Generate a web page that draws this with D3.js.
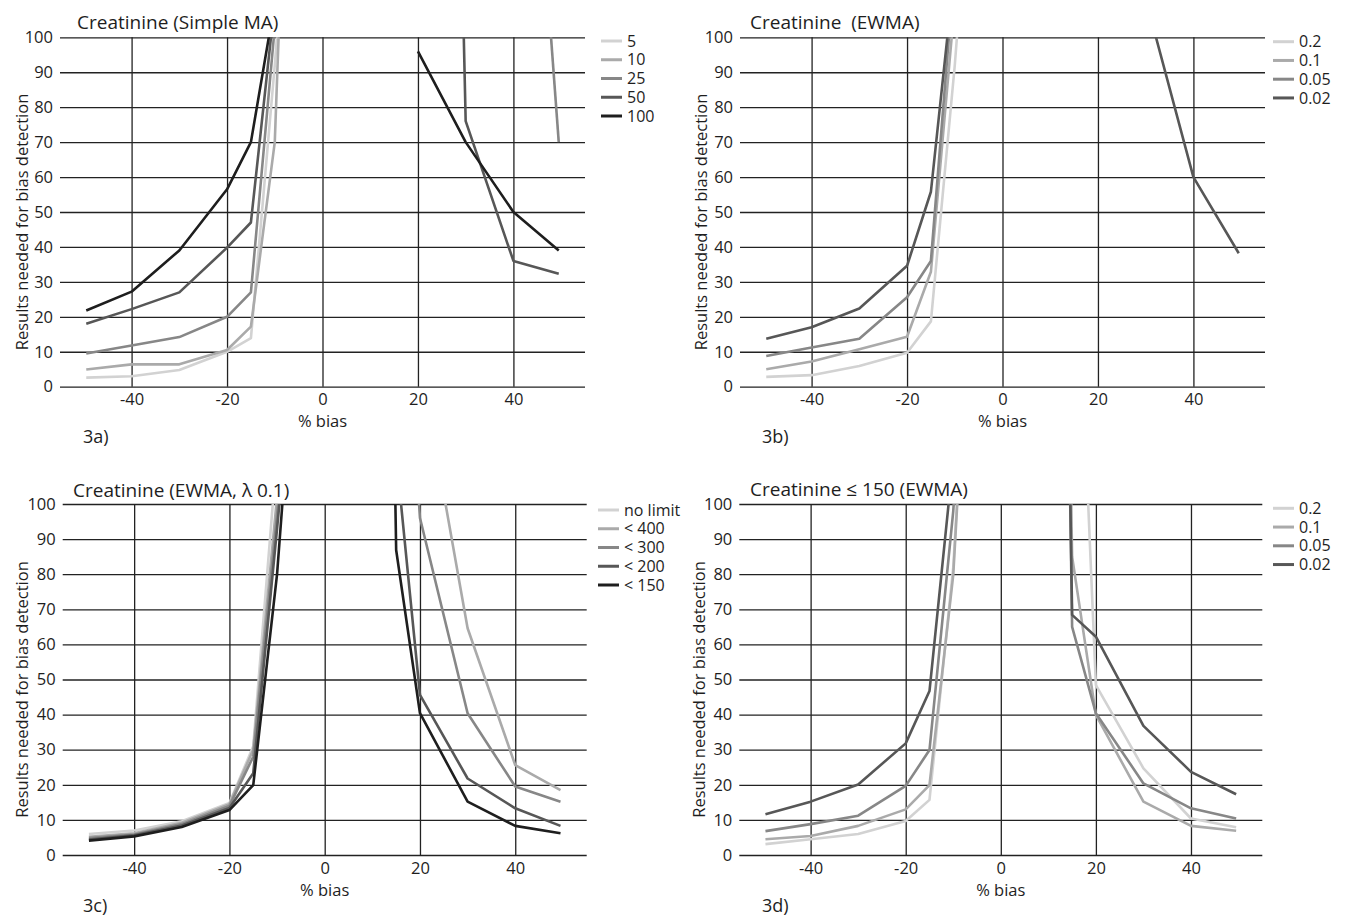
<!DOCTYPE html>
<html><head><meta charset="utf-8">
<script src="https://cdn.jsdelivr.net/npm/d3@7"></script>
<style>
body{margin:0;background:#fff;}
svg{font-family:"Open Sans",sans-serif;display:block;}
text{fill:#1e1e1e;}
.title{white-space:pre;}
</style></head><body>
<svg id="chart" width="1348" height="919"></svg>
<script>
// ---------- shared axes ----------
const biasNeg = [-49.5, -40, -30, -20, -15, -10, -5];
const biasPos = [10, 15, 20, 30, 40, 49.5];
const xTickValues = [-40, -20, 0, 20, 40];
const yTickValues = [0, 10, 20, 30, 40, 50, 60, 70, 80, 90, 100];

// ---------- 3a: Creatinine (Simple MA) ----------
const maSeries = ["5", "10", "25", "50", "100"];
const maNeg = [
  [2.6, 3.0, 4.8, 10.0, 13.9, 92, 180],
  [4.9, 6.4, 6.4, 10.5, 17.2, 70, 257],
  [9.5, 11.8, 14.2, 20.0, 27.0, 103, 200],
  [18.0, 22.2, 27.0, 39.8, 47.0, 110, 200],
  [21.8, 27.2, 39.0, 56.5, 70.0, 110, 200]
];
const maPos = [
  [null, null, null, null, null, null],
  [null, null, null, null, null, null],
  [null, null, null, null, 246, 70],
  [null, null, 680, 76, 36, 32.3],
  [null, null, 96, 70, 50, 39]
];

// ---------- 3b: Creatinine (EWMA) ----------
const ewmaSeries = ["0.2", "0.1", "0.05", "0.02"];
const ewmaNeg = [
  [2.8, 3.3, 5.9, 9.7, 18.7, 92, 180],
  [5.0, 7.2, 10.7, 14.3, 32.9, 110, 200],
  [8.8, 11.2, 13.7, 25.6, 36.0, 121, 200],
  [13.7, 17.0, 22.4, 34.6, 55.8, 120, 200]
];
const ewmaPos = [
  [null, null, null, null, null, null],
  [null, null, null, null, null, null],
  [null, null, null, null, null, null],
  [null, null, null, 111, 60, 38.2]
];

// ---------- 3c: Creatinine (EWMA, λ 0.1) ----------
const limitSeries = ["no limit", "< 400", "< 300", "< 200", "< 150"];
const limitNeg = [
  [6.0, 7.0, 9.6, 14.8, 31.0, 115, 200],
  [5.2, 6.2, 9.2, 14.5, 30.0, 102, 180],
  [4.8, 5.8, 8.8, 14.0, 28.0, 97, 160],
  [4.4, 5.6, 8.4, 13.4, 23.3, 93, 165],
  [4.1, 5.3, 8.0, 12.8, 19.9, 80, 170]
];
const limitPos = [
  [null, null, null, null, null, null],
  [null, null, 141, 64.6, 25.6, 18.5],
  [null, 200, 96, 40.4, 19.5, 15.2],
  [null, 114, 45.6, 21.8, 13.3, 8.3],
  [500, 86.9, 40.4, 15.2, 8.3, 6.2]
];

// ---------- 3d: Creatinine ≤ 150 (EWMA) ----------
const lowSeries = ["0.2", "0.1", "0.05", "0.02"];
const lowNeg = [
  [3.1, 4.5, 6.0, 9.7, 15.7, 82, 200],
  [4.5, 5.4, 8.3, 13.0, 19.9, 79.8, 200],
  [6.8, 8.8, 11.2, 19.7, 29.9, 98, 200],
  [11.6, 15.2, 20.1, 31.8, 46.7, 113, 200]
];
const lowPos = [
  [null, 208, 48.4, 24.7, 10.4, 7.9],
  [500, 85.0, 39.9, 15.2, 8.3, 6.9],
  [500, 65.0, 40.4, 20.4, 13.3, 10.4],
  [500, 68.4, 62.2, 36.8, 23.7, 17.3]
];

const grays5 = ["#d2d2d2", "#aaaaaa", "#878787", "#575757", "#1e1e1e"];
const grays4 = ["#d2d2d2", "#aaaaaa", "#878787", "#575757"];

// ---------- layout ----------
const panels = [
  {id: "a", names: maSeries, neg: maNeg, pos: maPos, colors: grays5,
   title: "Creatinine (Simple MA)", tag: "3a)",
   left: 60, right: 585, top: 37.3, bottom: 386.7,
   titleX: 77, titleY: 29, tagX: 83, tagY: 443, ylabX: 22, legX: 601, legY: 41},
  {id: "b", names: ewmaSeries, neg: ewmaNeg, pos: ewmaPos, colors: grays4,
   title: "Creatinine  (EWMA)", tag: "3b)",
   left: 740, right: 1265, top: 37.3, bottom: 386.7,
   titleX: 750, titleY: 29, tagX: 762, tagY: 443, ylabX: 701, legX: 1273, legY: 41.7},
  {id: "c", names: limitSeries, neg: limitNeg, pos: limitPos, colors: grays5,
   title: "Creatinine (EWMA, λ 0.1)", tag: "3c)",
   left: 62.7, right: 586.7, top: 504, bottom: 855,
   titleX: 73, titleY: 496.5, tagX: 83, tagY: 912, ylabX: 22, legX: 598, legY: 510},
  {id: "d", names: lowSeries, neg: lowNeg, pos: lowPos, colors: grays4,
   title: "Creatinine ≤ 150 (EWMA)", tag: "3d)",
   left: 739.3, right: 1262.3, top: 504, bottom: 855,
   titleX: 750, titleY: 496, tagX: 762, tagY: 912, ylabX: 699, legX: 1273, legY: 508.3}
];

const svg = d3.select("#chart");
const fmt = d => String(d);

panels.forEach(p => {
  const x = d3.scaleLinear().domain([-55, 55]).range([p.left, p.right]);
  const y = d3.scaleLinear().domain([0, 100]).range([p.bottom, p.top]);
  const g = svg.append("g");

  // horizontal grid + y tick labels
  const ya = g.append("g").attr("transform", `translate(${p.left},0)`)
    .call(d3.axisLeft(y).tickValues(yTickValues).tickFormat(fmt)
      .tickSize(-(p.right - p.left)).tickPadding(7));
  ya.select(".domain").remove();
  ya.selectAll("line").attr("stroke", "#222").attr("stroke-width", 1.3);
  ya.selectAll("text").attr("font-size", 16.5).attr("fill", "#1e1e1e")
    .attr("font-family", "Open Sans");

  // vertical grid + x tick labels
  const xa = g.append("g").attr("transform", `translate(0,${p.bottom})`)
    .call(d3.axisBottom(x).tickValues(xTickValues).tickFormat(fmt)
      .tickSize(-(p.bottom - p.top)).tickPadding(7));
  xa.select(".domain").remove();
  xa.selectAll("line").attr("stroke", "#222").attr("stroke-width", 1.3);
  xa.selectAll("text").attr("font-size", 16.5).attr("fill", "#1e1e1e")
    .attr("font-family", "Open Sans");

  // clip
  const cid = "clip-" + p.id;
  svg.append("clipPath").attr("id", cid).append("rect")
    .attr("x", p.left).attr("y", p.top)
    .attr("width", p.right - p.left).attr("height", p.bottom - p.top);

  const line = d3.line()
    .defined(d => d[1] !== null)
    .x(d => x(d[0])).y(d => y(d[1]));

  const lines = g.append("g").attr("clip-path", `url(#${cid})`);
  p.names.forEach((name, i) => {
    const negPts = biasNeg.map((b, j) => [b, p.neg[i][j]]);
    const posPts = biasPos.map((b, j) => [b, p.pos[i][j]]);
    [negPts, posPts].forEach(pts => {
      lines.append("path").datum(pts)
        .attr("d", line)
        .attr("fill", "none")
        .attr("stroke", p.colors[i])
        .attr("stroke-width", 2.6)
        .attr("stroke-linejoin", "round");
    });
  });

  // legend
  const leg = g.append("g");
  p.names.forEach((name, i) => {
    const ly = p.legY + i * 18.75;
    leg.append("line").attr("x1", p.legX).attr("x2", p.legX + 21)
      .attr("y1", ly).attr("y2", ly)
      .attr("stroke", p.colors[i]).attr("stroke-width", 3);
    leg.append("text").attr("x", p.legX + 26).attr("y", ly).attr("dy", "0.35em")
      .attr("font-size", 16).text(name);
  });

  // title
  g.append("text").attr("class", "title").attr("x", p.titleX).attr("y", p.titleY)
    .attr("font-size", 19).text(p.title);
  // axis labels
  g.append("text").attr("x", x(0)).attr("y", p.bottom + 40.5)
    .attr("text-anchor", "middle").attr("font-size", 16.5).text("% bias");
  g.append("text")
    .attr("transform", `translate(${p.ylabX},${(p.top + p.bottom) / 2 + 10}) rotate(-90)`)
    .attr("text-anchor", "middle").attr("dy", "0.35em")
    .attr("font-size", 16.5).text("Results needed for bias detection");
  // panel tag
  g.append("text").attr("x", p.tagX).attr("y", p.tagY)
    .attr("font-size", 18).text(p.tag);
});
</script>
</body></html>
